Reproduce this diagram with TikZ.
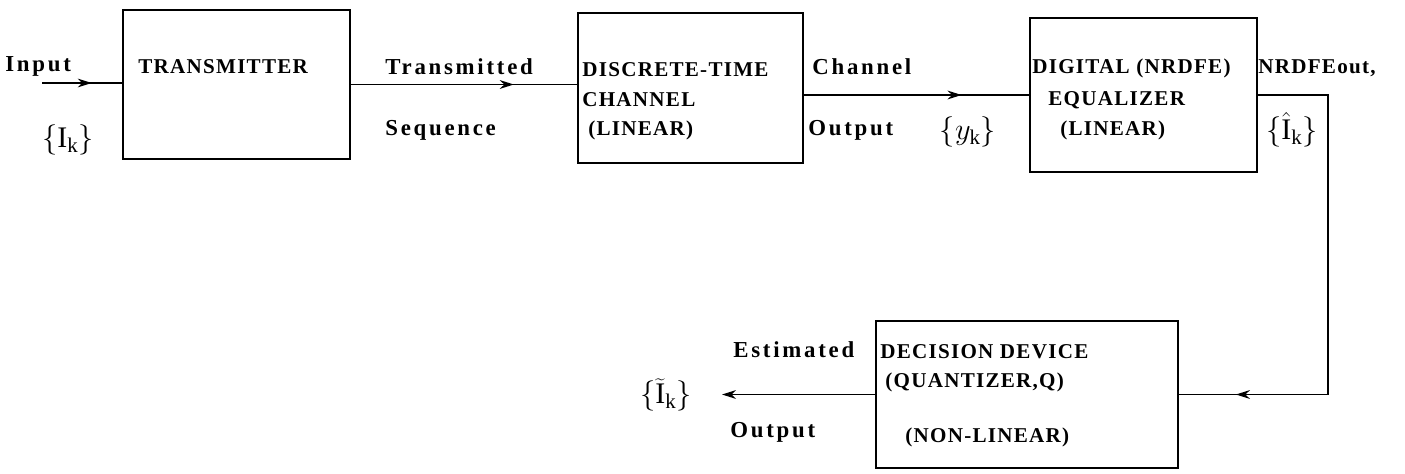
\documentclass[tikz,border=0pt]{standalone}
\usepackage{fontspec}
\setmainfont{Liberation Serif}[LetterSpace=6.0]
\usepackage{tikz}
\usetikzlibrary{arrows.meta,decorations.markings,positioning}

\begin{document}
\begin{tikzpicture}[x=0.02cm, y=-0.02cm, font=\fontsize{12}{14}\selectfont\bfseries]
  % Styles
  \tikzset{
    block/.style={rectangle, draw=black, line width=0.9pt, inner sep=0pt},
    lbl/.style={anchor=west, inner sep=0pt},
    sig/.style={lbl, font=\fontsize{13}{15}\selectfont\bfseries\addfontfeature{LetterSpace=12.0}},
    sym/.style={inner sep=0pt, font=\fontsize{17}{19}\selectfont},
    line/.style={line width=0.9pt, black},
    midarrow/.style={line, postaction={decorate}, decoration={markings,
      mark=at position #1 with {\arrow{Stealth[length=8pt,width=5pt]}}}},
    outarrow/.style={line, -{Stealth[length=8pt,width=5pt]}}
  }
  \useasboundingbox (0,0) rectangle (1405,473);

  % Blocks
  \node[block, minimum width=4.54cm, minimum height=2.98cm] (tx) at (236.5,84.5) {};
  \node[block, minimum width=4.5cm, minimum height=3.0cm] (ch) at (690.5,88) {};
  \node[block, minimum width=4.54cm, minimum height=3.08cm] (eq) at (1143.5,95) {};
  \node[block, minimum width=6.04cm, minimum height=2.94cm] (dec) at (1027,394.5) {};

  % Text inside the blocks
  \node[lbl] (txname) at (138,67) {TRANSMITTER};
  \node[lbl] (chname1) at (582,70) {DISCRETE-TIME};
  \node[lbl] (chname2) at (582,100) {CHANNEL};
  \node[lbl] (chname3) at (588,130) {(LINEAR)};
  \node[lbl] (eqname1) at (1032,68) {DIGITAL (NRDFE)};
  \node[lbl] (eqname2) at (1048,100) {EQUALIZER};
  \node[lbl] (eqname3) at (1060,130) {(LINEAR)};
  \node[lbl] (decname1) at (880,352) {DECISION DEVICE};
  \node[lbl] (decname2) at (885,382) {(QUANTIZER,Q)};
  \node[lbl] (decname3) at (905,437) {(NON-LINEAR)};

  % Signal labels
  \node[sig] (inlbl) at (5,66) {Input};
  \node[sym] (insym) at (68,140) {$\{\mathrm{I}_{\mathrm{k}}\}$};
  \node[sig] (txlbl1) at (385,67) {Transmitted};
  \node[sig] (txlbl2) at (385,130) {Sequence};
  \node[sig] (chlbl1) at (812,67) {Channel};
  \node[sig] (chlbl2) at (808,130) {Output};
  \node[sym] (ysym) at (968,132) {$\{y_{\mathrm{k}}\}$};
  \node[lbl] (eqlbl) at (1258,68) {NRDFEout,};
  \node[sym] (ihatsym) at (1292,130) {$\{\hat{\mathrm{I}}_{\mathrm{k}}\}$};
  \node[sig] (estlbl1) at (733,350) {Estimated};
  \node[sig] (estlbl2) at (730,432) {Output};
  \node[sym] (itilsym) at (666,395) {$\{\widetilde{\mathrm{I}}_{\mathrm{k}}\}$};

  % Free ends
  \coordinate (instart) at (42,83);
  \coordinate (fbk) at (1328,250);
  \coordinate (estend) at (722,394.5);

  % Connectors
  \draw[midarrow=0.62] (instart) -- (instart -| tx.west);
  \draw[midarrow=0.72] (tx.east) -- (tx.east -| ch.west);
  \draw[midarrow=0.70] (ch.east |- eq.west) -- (eq.west);
  \draw[midarrow=0.89] (eq.east) -| (fbk) |- (dec.east);
  \draw[outarrow] (dec.west) -- (estend);

\end{tikzpicture}
\end{document}
